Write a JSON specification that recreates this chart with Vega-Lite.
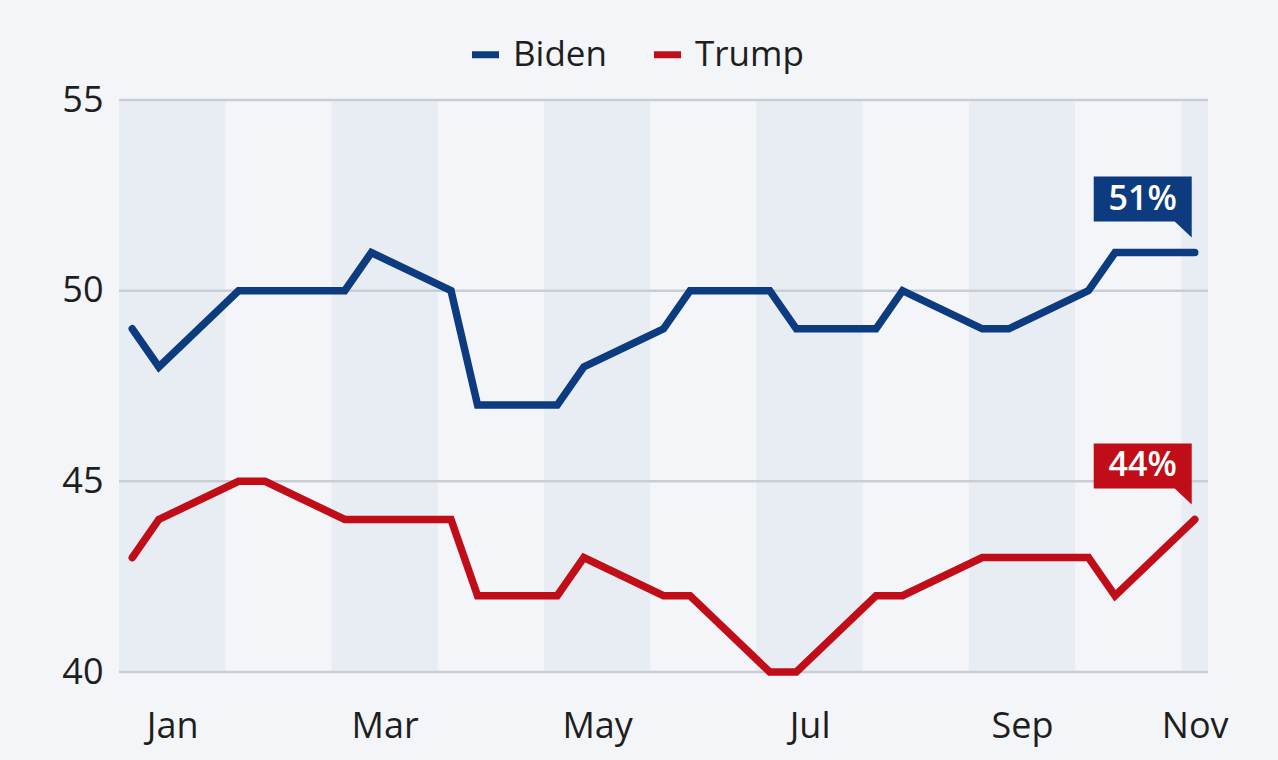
{
  "$schema": "https://vega.github.io/schema/vega-lite/v6.json",
  "autosize": "none",
  "width": 1089,
  "height": 572,
  "padding": {"left": 119, "top": 100, "right": 70, "bottom": 88},
  "background": "#f3f5f9",
  "config": {
    "view": {"stroke": null},
    "font": "Open Sans",
    "axis": {"labelFont": "Open Sans", "labelColor": "#1e1e1e", "labelFontSize": 36, "domain": false, "ticks": false, "grid": false, "title": null}
  },
  "datasets": {
    "polls": [
      {"slot": 0, "candidate": "Biden", "share": 49},
      {"slot": 1, "candidate": "Biden", "share": 48},
      {"slot": 4, "candidate": "Biden", "share": 50},
      {"slot": 5, "candidate": "Biden", "share": 50},
      {"slot": 8, "candidate": "Biden", "share": 50},
      {"slot": 9, "candidate": "Biden", "share": 51},
      {"slot": 12, "candidate": "Biden", "share": 50},
      {"slot": 13, "candidate": "Biden", "share": 47},
      {"slot": 16, "candidate": "Biden", "share": 47},
      {"slot": 17, "candidate": "Biden", "share": 48},
      {"slot": 20, "candidate": "Biden", "share": 49},
      {"slot": 21, "candidate": "Biden", "share": 50},
      {"slot": 24, "candidate": "Biden", "share": 50},
      {"slot": 25, "candidate": "Biden", "share": 49},
      {"slot": 28, "candidate": "Biden", "share": 49},
      {"slot": 29, "candidate": "Biden", "share": 50},
      {"slot": 32, "candidate": "Biden", "share": 49},
      {"slot": 33, "candidate": "Biden", "share": 49},
      {"slot": 36, "candidate": "Biden", "share": 50},
      {"slot": 37, "candidate": "Biden", "share": 51},
      {"slot": 40, "candidate": "Biden", "share": 51},
      {"slot": 0, "candidate": "Trump", "share": 43},
      {"slot": 1, "candidate": "Trump", "share": 44},
      {"slot": 4, "candidate": "Trump", "share": 45},
      {"slot": 5, "candidate": "Trump", "share": 45},
      {"slot": 8, "candidate": "Trump", "share": 44},
      {"slot": 9, "candidate": "Trump", "share": 44},
      {"slot": 12, "candidate": "Trump", "share": 44},
      {"slot": 13, "candidate": "Trump", "share": 42},
      {"slot": 16, "candidate": "Trump", "share": 42},
      {"slot": 17, "candidate": "Trump", "share": 43},
      {"slot": 20, "candidate": "Trump", "share": 42},
      {"slot": 21, "candidate": "Trump", "share": 42},
      {"slot": 24, "candidate": "Trump", "share": 40},
      {"slot": 25, "candidate": "Trump", "share": 40},
      {"slot": 28, "candidate": "Trump", "share": 42},
      {"slot": 29, "candidate": "Trump", "share": 42},
      {"slot": 32, "candidate": "Trump", "share": 43},
      {"slot": 33, "candidate": "Trump", "share": 43},
      {"slot": 36, "candidate": "Trump", "share": 43},
      {"slot": 37, "candidate": "Trump", "share": 42},
      {"slot": 40, "candidate": "Trump", "share": 44}
    ],
    "bands": [
      {"month": "Jan", "start": -0.5, "end": 3.5},
      {"month": "Mar", "start": 7.5, "end": 11.5},
      {"month": "May", "start": 15.5, "end": 19.5},
      {"month": "Jul", "start": 23.5, "end": 27.5},
      {"month": "Sep", "start": 31.5, "end": 35.5},
      {"month": "Nov", "start": 39.5, "end": 40.5}
    ],
    "grid": [{"level": 40}, {"level": 45}, {"level": 50}, {"level": 55}]
  },
  "layer": [
    {
      "data": {"name": "bands"},
      "mark": {"type": "rect", "color": "#e8ecf3"},
      "encoding": {
        "x": {"field": "start", "type": "quantitative", "scale": {"domain": [-0.5, 40.5], "nice": false, "zero": false},
          "axis": {"values": [1.5, 9.5, 17.5, 25.5, 33.5, 40], "labelPadding": 37,
            "labelExpr": "datum.value < 2 ? 'Jan' : datum.value < 10 ? 'Mar' : datum.value < 18 ? 'May' : datum.value < 26 ? 'Jul' : datum.value < 34 ? 'Sep' : 'Nov'"}},
        "x2": {"field": "end"},
        "y": {"value": 0},
        "y2": {"value": 572}
      }
    },
    {
      "data": {"name": "grid"},
      "mark": {"type": "rule", "color": "#c9ced6", "strokeWidth": 2.5},
      "encoding": {
        "y": {"field": "level", "type": "quantitative", "scale": {"domain": [40, 55], "nice": false, "zero": false},
          "axis": {"values": [40, 45, 50, 55], "labelPadding": 16}}
      }
    },
    {
      "data": {"name": "polls"},
      "mark": {"type": "line", "strokeWidth": 7.5, "strokeCap": "round", "strokeJoin": "miter"},
      "encoding": {
        "x": {"field": "slot", "type": "quantitative"},
        "y": {"field": "share", "type": "quantitative"},
        "color": {"field": "candidate", "type": "nominal",
          "scale": {"domain": ["Biden", "Trump"], "range": ["#0d3b80", "#c00d17"]},
          "legend": {"title": null, "orient": "none", "direction": "horizontal", "legendX": 349, "legendY": -63,
            "symbolType": "stroke", "symbolStrokeWidth": 7, "symbolSize": 729, "symbolOpacity": 1,
            "labelFont": "Open Sans", "labelFontSize": 35, "labelColor": "#1e1e1e", "labelOffset": 10, "columnPadding": 33}}
      }
    },
    {
      "data": {"name": "polls"},
      "transform": [{"filter": "datum.slot == 40"}],
      "mark": {"type": "point", "filled": true, "opacity": 1, "strokeWidth": 0, "size": 40000,
        "shape": "M-1.01,-0.76L-0.03,-0.76L-0.03,-0.15L-0.2,-0.31L-1.01,-0.31Z"},
      "encoding": {
        "x": {"field": "slot", "type": "quantitative"},
        "y": {"field": "share", "type": "quantitative"},
        "fill": {"field": "candidate", "type": "nominal", "legend": null,
          "scale": {"domain": ["Biden", "Trump"], "range": ["#0d3b80", "#c00d17"]}}
      }
    },
    {
      "data": {"name": "polls"},
      "transform": [{"filter": "datum.slot == 40"}, {"calculate": "datum.share + '%'", "as": "label"}],
      "mark": {"type": "text", "color": "white", "font": "Open Sans", "fontSize": 34, "fontWeight": 600, "dx": -52, "dy": -53, "align": "center", "baseline": "middle"},
      "encoding": {
        "x": {"field": "slot", "type": "quantitative"},
        "y": {"field": "share", "type": "quantitative"},
        "text": {"field": "label"}
      }
    }
  ]
}
